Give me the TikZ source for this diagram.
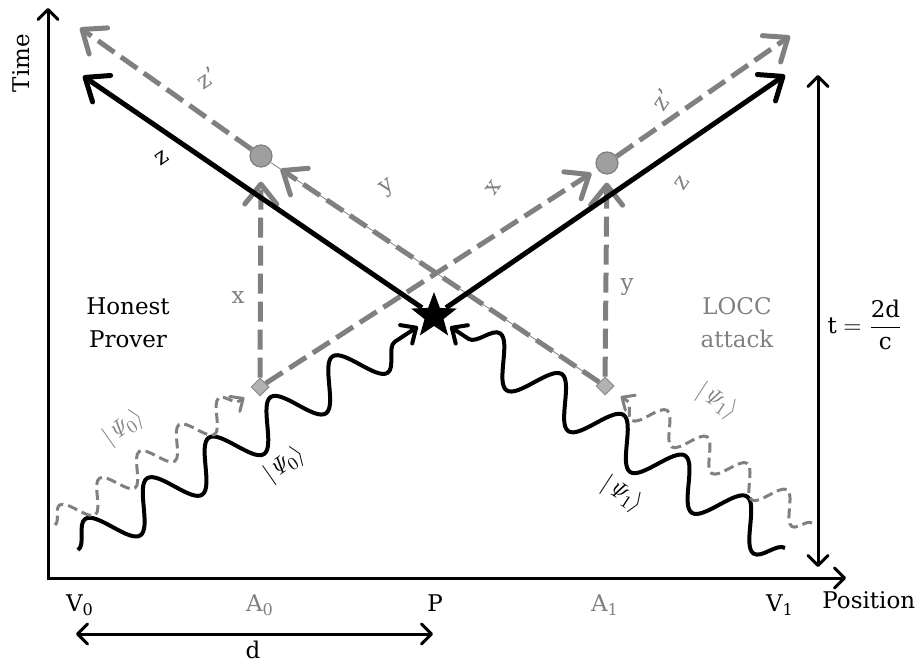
\documentclass[tikz,border=0pt]{standalone}
\usepackage{amsmath}
\usepackage[no-math]{fontspec}
\setmainfont{DejaVu Serif}
\usetikzlibrary{shapes.geometric, arrows.meta, positioning, calc, decorations.pathmorphing}

\begin{document}
\begin{tikzpicture}[x=0.5pt, y=-0.5pt, font=\fontsize{11.5}{16.5}\selectfont,
    axis/.style={line width=1.5pt, line cap=rect, -{Straight Barb[round, length=5pt, width=10pt]}},
    span/.style={line width=1.5pt, {Straight Barb[round, length=5pt, width=10pt]}-{Straight Barb[round, length=5pt, width=10pt]}},
    beam/.style={line width=2.5pt, -{Straight Barb[round, length=10pt, width=16pt]}},
    gbeam/.style={draw=gray, line width=2.5pt, dash pattern=on 10pt off 4pt, -{Straight Barb[round, length=10pt, width=16pt]}},
    wave/.style={line width=2pt, decorate, decoration={snake, segment length=37pt, amplitude=11pt, post length=14pt}, -{Straight Barb[round, length=6pt, width=11pt]}},
    gwave/.style={draw=gray, line width=1.5pt, dash pattern=on 5pt off 2.5pt, decorate, decoration={snake, segment length=24pt, amplitude=7pt, post length=8pt}, -{Straight Barb[round, length=5pt, width=9pt]}},
    dot/.style={circle, draw=gray, fill=gray!75, line width=0.6pt, minimum size=11pt, inner sep=0pt},
    diam/.style={diamond, draw=gray!90, fill=gray!60, line width=0.5pt, minimum size=9pt, inner sep=0pt},
    starnode/.style={star, star points=5, star point ratio=2.4, fill=black, minimum size=24pt, inner sep=0pt},
    gl/.style={text=gray},
    ket/.style={font=\fontsize{13}{15}\selectfont, inner sep=1pt}
]
\useasboundingbox (0,0) rectangle (921,662);

\coordinate (O) at (48,578);
\coordinate (tTop) at (48,8);
\coordinate (pEnd) at (846,578);
\draw[axis] (O) -- (tTop);
\draw[axis] (O) -- (pEnd);
\node[rotate=90] (time) at (21,63) {Time};
\node[anchor=west, inner sep=0pt] (pos) at (822,600) {Position};

\node (lV0) at (80,605) {V\textsubscript{0}};
\node[gl] (lA0) at (260,605) {A\textsubscript{0}};
\node (lP) at (435,603) {P};
\node[gl] (lA1) at (605,605) {A\textsubscript{1}};
\node (lV1) at (780,605) {V\textsubscript{1}};

\coordinate (dL) at (76,634);
\coordinate (dR) at (433,634);
\draw[span] (dL) -- (dR);
\node[inner sep=1pt] (dlab) at (253,650) {d};

\coordinate (tLo) at (818,567);
\coordinate (tHi) at (818,75);
\draw[span] (tLo) -- (tHi);
\node (tlab) at (865,325) {$\text{t} = \dfrac{\text{2d}}{\text{c}}$};

\node[starnode] (P) at (434,316) {};
\node[dot] (cL) at (261,156) {};
\node[dot] (cR) at (607,163) {};
\node[diam] (dA0) at (260,387) {};
\node[diam] (dA1) at (605,386) {};
\coordinate (zL) at (83,76);
\coordinate (zR) at (785,75);
\coordinate (zpL) at (80,28);
\coordinate (zpR) at (790,36);
\coordinate (sL) at (78,550);
\coordinate (sR) at (785,548);
\coordinate (gL) at (55,525);
\coordinate (gR) at (812,523);

\draw[gray, line width=0.4pt] (dA1) -- (cL);
\draw[gbeam, shorten >=6pt] (dA1) -- (cL);
\draw[gbeam] (cL) -- (zpL);
\draw[gbeam, shorten >=3.5pt] (dA0) -- (cR);
\draw[gbeam] (cR) -- (zpR);
\draw[gbeam, shorten >=7pt] (dA0) -- (cL);
\draw[gbeam, shorten >=4pt] (dA1) -- (cR);

\draw[beam] (P) -- (zL);
\draw[beam] (P) -- (zR);

\draw[wave, shorten >=3pt] (sL) -- (P);
\draw[wave, shorten >=3pt] (sR) -- (P);
\draw[gwave, shorten >=6pt] (gL) -- (dA0);
\draw[gwave, shorten >=6pt] (gR) -- (dA1);

\node[rotate=35] (lz) at (162,158) {z};
\node[gl, rotate=35] (lzp) at (207,78) {z'};
\node[gl, rotate=35] (ly) at (388,188) {y};
\node[gl, rotate=55] (lx) at (493,188) {x};
\node[gl, rotate=55] (lzpR) at (662,100) {z'};
\node[gl, rotate=55] (lzR) at (682,183) {z};
\node[gl] (lxv) at (238,298) {x};
\node[gl] (lyv) at (627,287) {y};

\node[ket, gl, rotate=35] (k0g) at (124,428) {$|\mathit{\Psi}_0\rangle$};
\node[ket, rotate=35] (k0) at (285,465) {$|\mathit{\Psi}_0\rangle$};
\node[ket, gl, rotate=-33] (k1g) at (717,402) {$|\mathit{\Psi}_1\rangle$};
\node[ket, rotate=-33] (k1) at (622,495) {$|\mathit{\Psi}_1\rangle$};

\node[align=center] (honest) at (128,323) {Honest\\Prover};
\node[gl, align=center] (locc) at (737,323) {LOCC\\attack};
\end{tikzpicture}
\end{document}
